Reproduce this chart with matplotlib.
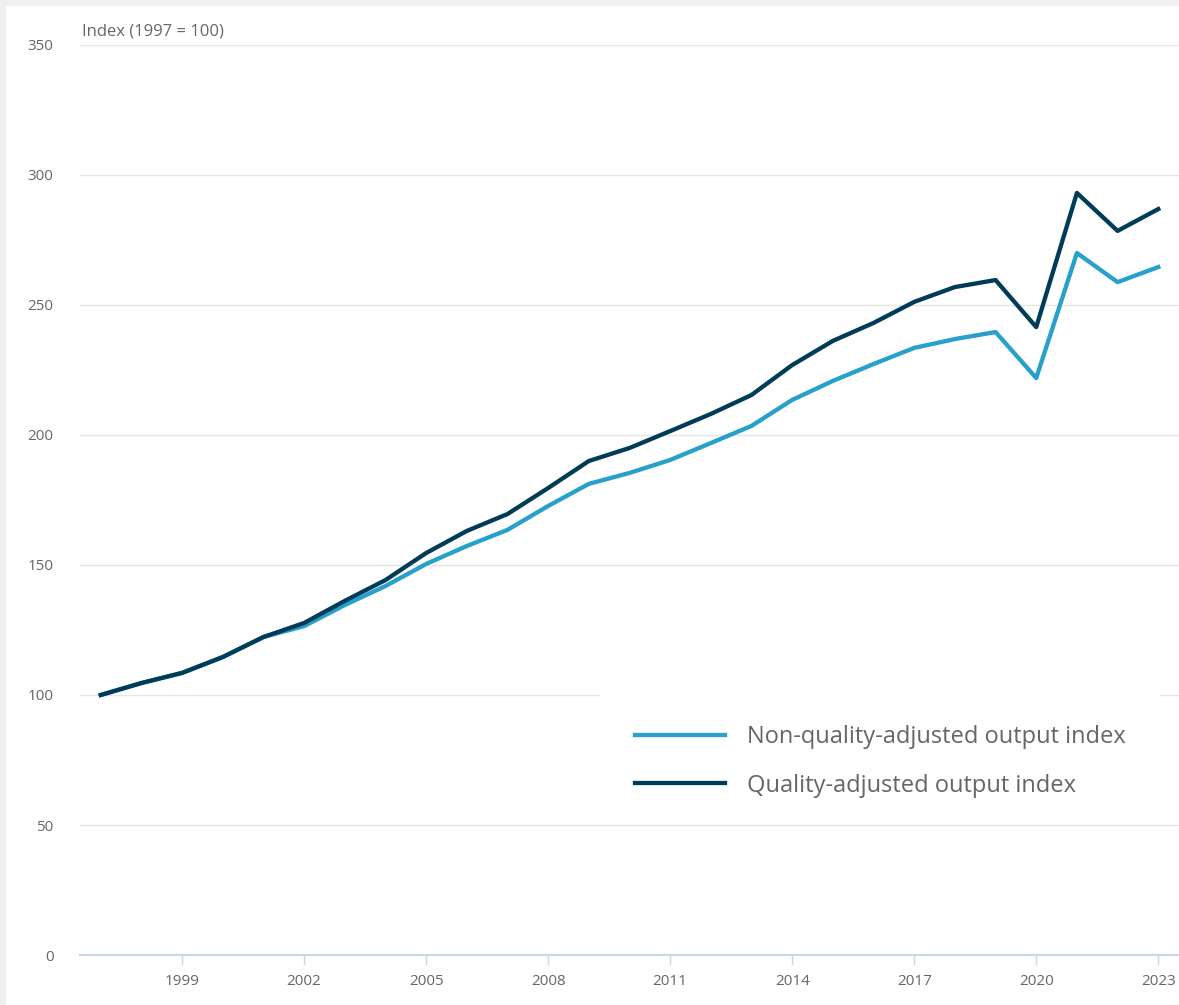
import matplotlib.pyplot as plt
from matplotlib.patches import Rectangle

plt.rcParams['font.family'] = ['Open Sans', 'DejaVu Sans']

# Index values, 1997 = 100
years = list(range(1997, 2024))
non_quality = [100, 104.6, 108.5, 114.6, 122.3, 126.5, 134.6, 141.9, 150.4, 157.3,
               163.5, 172.7, 181.2, 185.4, 190.4, 196.9, 203.5, 213.5, 220.8, 227.3,
               233.5, 236.9, 239.6, 221.9, 270.0, 258.8, 264.6]
quality = [100, 104.6, 108.5, 114.6, 122.3, 127.7, 136.2, 144.2, 154.6, 163.1,
           169.6, 179.6, 190.0, 195.0, 201.5, 208.1, 215.4, 226.9, 236.2, 243.1,
           251.2, 256.9, 259.6, 241.5, 293.1, 278.5, 286.9]
labels = ['Non-quality-adjusted output index', 'Quality-adjusted output index']
xticks = list(range(1999, 2024, 3))
yticks = list(range(0, 351, 50))

W, H = 1179, 1005
fig = plt.figure(figsize=(W / 100, H / 100), dpi=100)
ax = fig.add_axes([80 / W, 50 / H, (W - 80) / W, 910 / H])

# light grey frame at top and left
fig.patches.append(Rectangle((0, 0), 5 / W, 1, transform=fig.transFigure,
                             color='#f0f0f0', zorder=0))
fig.patches.append(Rectangle((0, 1 - 5 / H), 1, 5 / H, transform=fig.transFigure,
                             color='#f0f0f0', zorder=0))

ax.plot(years, non_quality, color='#27a0cc', lw=3.1, label=labels[0], zorder=3)
ax.plot(years, quality, color='#003c57', lw=3.1, label=labels[1], zorder=4)

ax.set_xlim(1996.49, 2023.51)
ax.set_ylim(0, 350)
ax.set_xticks(xticks)
ax.set_yticks(yticks)
ax.grid(axis='y', color='#e6e6e6', lw=1)
ax.set_axisbelow(True)
for s in ['top', 'right', 'left']:
    ax.spines[s].set_visible(False)
ax.spines['bottom'].set_color('#ccd6eb')
ax.spines['bottom'].set_linewidth(1.5)
ax.tick_params(axis='x', length=7, color='#ccd6eb', width=1, pad=7,
               labelsize=11, labelcolor='#666666')
ax.tick_params(axis='y', length=0, pad=19, labelsize=11, labelcolor='#666666')

fig.text(82 / W, 1 - 31 / H, 'Index (1997 = 100)', fontsize=12,
         color='#666666', va='center', ha='left')

# white backing box behind the legend (hides the 100 gridline there)
ax.add_patch(Rectangle((600 / W, 1 - 812 / H), 560 / W, 124 / H,
                       transform=fig.transFigure, facecolor='white',
                       edgecolor='none', zorder=1))

leg = ax.legend(loc='upper left', bbox_to_anchor=(600 / W, 1 - 690 / H),
                bbox_transform=fig.transFigure, fontsize=17, frameon=False,
                handlelength=3.8, handletextpad=0.93, labelspacing=1.03,
                borderpad=1.5, borderaxespad=0)
for t in leg.get_texts():
    t.set_color('#666666')

fig.savefig('out.png', dpi=100, facecolor='white')
